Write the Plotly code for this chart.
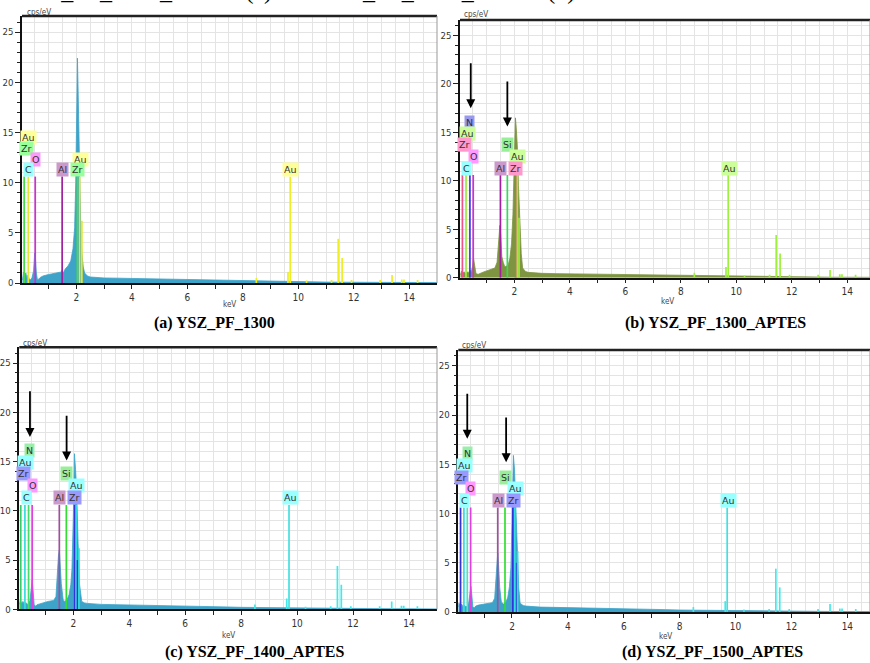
import plotly.graph_objects as go

W, H = 870, 663

# ------------------------------------------------------------------ data
CONT_KEV = [2.5, 2.7, 3.0, 3.5, 4.0, 4.5, 5.0, 5.5, 6.0, 6.5, 7.0, 7.5, 8.0, 8.5,
            9.0, 9.5, 10.0, 10.5, 11.0, 11.5, 12.0, 12.5, 13.0, 13.5, 14.0, 14.5, 15.0]

SPEC_A_KEV = [0.06, 0.1, 0.14, 0.18, 0.22, 0.26, 0.3, 0.34, 0.4, 0.46, 0.5, 0.53, 0.56,
              0.6, 0.65, 0.7, 0.8, 0.9, 1.0, 1.1, 1.2, 1.3, 1.4, 1.46, 1.49, 1.53, 1.6,
              1.7, 1.8, 1.88, 1.94, 1.98, 2.02, 2.04, 2.06, 2.09, 2.12, 2.16, 2.2, 2.25,
              2.3, 2.4] + CONT_KEV
SPEC_A_CPS = [0.3, 1.1, 0.6, 1.0, 0.5, 0.8, 0.4, 0.3, 0.5, 1.2, 3.0, 2.4, 1.0,
              0.3, 0.4, 0.55, 0.7, 0.8, 0.85, 0.9, 0.95, 1.0, 1.05, 1.1, 1.3, 1.0, 1.4,
              1.7, 2.2, 3.4, 5.5, 10.0, 18.0, 22.4, 20.0, 14.0, 9.0, 5.5, 3.0, 1.6,
              1.0, 0.7,
              0.6, 0.55, 0.5, 0.48, 0.45, 0.42, 0.4, 0.36, 0.32, 0.3, 0.27, 0.24, 0.2, 0.18,
              0.16, 0.14, 0.12, 0.1, 0.09, 0.08, 0.07, 0.06, 0.06, 0.05, 0.05, 0.04, 0.04]

SPEC_B_KEV = [0.06, 0.1, 0.15, 0.2, 0.25, 0.3, 0.35, 0.4, 0.45, 0.5, 0.53, 0.57, 0.62,
              0.7, 0.8, 0.9, 1.0, 1.1, 1.2, 1.3, 1.38, 1.44, 1.48, 1.51, 1.55, 1.6, 1.66,
              1.72, 1.78, 1.84, 1.9, 1.95, 2.0, 2.04, 2.07, 2.11, 2.15, 2.2, 2.25, 2.3,
              2.4] + CONT_KEV
SPEC_B_CPS = [0.3, 0.7, 0.5, 0.6, 0.4, 0.6, 0.5, 0.8, 0.6, 1.2, 2.0, 1.4, 0.4,
              0.35, 0.5, 0.6, 0.7, 0.8, 0.9, 1.0, 1.6, 3.5, 5.4, 4.5, 2.2, 1.6, 1.1,
              1.2, 1.3, 2.0, 3.5, 6.5, 12.0, 16.5, 15.5, 13.5, 9.5, 6.0, 2.5, 1.0,
              0.65,
              0.55, 0.5, 0.45, 0.42, 0.4, 0.38, 0.35, 0.32, 0.3, 0.27, 0.25, 0.22, 0.2, 0.18,
              0.15, 0.14, 0.12, 0.1, 0.09, 0.08, 0.07, 0.06, 0.06, 0.05, 0.05, 0.04, 0.04]

SPEC_C_KEV = [0.07, 0.1, 0.15, 0.2, 0.25, 0.3, 0.35, 0.4, 0.45, 0.5, 0.53, 0.56, 0.6,
              0.65, 0.7, 0.8, 0.9, 1.0, 1.1, 1.2, 1.3, 1.38, 1.43, 1.47, 1.5, 1.53, 1.57,
              1.64, 1.7, 1.78, 1.85, 1.91, 1.95, 2.0, 2.04, 2.08, 2.12, 2.17, 2.22, 2.3,
              2.4] + CONT_KEV
SPEC_C_CPS = [0.5, 0.9, 0.6, 0.8, 0.5, 0.7, 0.5, 0.6, 0.9, 2.0, 3.0, 2.0, 0.5,
              0.3, 0.45, 0.55, 0.65, 0.75, 0.8, 0.85, 0.9, 1.3, 4.0, 5.5, 6.0, 4.5, 2.6,
              0.9, 0.8, 1.0, 1.5, 2.5, 4.0, 9.4, 15.8, 14.2, 12.1, 6.7, 2.6, 0.8,
              0.65,
              0.6, 0.55, 0.5, 0.47, 0.45, 0.42, 0.4, 0.36, 0.33, 0.3, 0.27, 0.24, 0.2, 0.18,
              0.16, 0.14, 0.12, 0.1, 0.09, 0.08, 0.07, 0.06, 0.06, 0.05, 0.05, 0.04, 0.04]

SPEC_D_KEV = [0.08, 0.1, 0.15, 0.2, 0.25, 0.3, 0.35, 0.4, 0.45, 0.5, 0.53, 0.56, 0.6,
              0.65, 0.7, 0.8, 0.9, 1.0, 1.1, 1.2, 1.3, 1.38, 1.43, 1.46, 1.49, 1.52, 1.56,
              1.62, 1.7, 1.78, 1.85, 1.91, 1.96, 2.0, 2.05, 2.09, 2.13, 2.19, 2.24, 2.29,
              2.4] + CONT_KEV
SPEC_D_CPS = [0.5, 0.9, 0.6, 0.8, 0.5, 0.7, 0.5, 0.6, 0.9, 1.8, 2.6, 1.8, 0.5,
              0.4, 0.6, 0.7, 0.75, 0.8, 0.85, 0.9, 0.95, 1.4, 4.0, 5.5, 6.0, 4.8, 2.5,
              1.0, 0.8, 1.0, 1.5, 2.6, 4.5, 9.0, 15.9, 14.5, 11.0, 6.3, 2.5, 0.9,
              0.65,
              0.6, 0.55, 0.5, 0.47, 0.45, 0.42, 0.4, 0.36, 0.33, 0.3, 0.27, 0.24, 0.2, 0.18,
              0.16, 0.14, 0.12, 0.1, 0.09, 0.08, 0.07, 0.06, 0.06, 0.05, 0.05, 0.04, 0.04]

# minor Au lines shared by all spectra (keV, cps)
AU_MINOR_KEV = [8.49, 9.63, 10.3, 11.2, 11.44, 11.58, 11.92, 12.95, 13.38, 13.73, 13.81, 14.3]
AU_MINOR_H = [0.5, 1.1, 0.25, 0.3, 4.4, 2.5, 0.3, 0.3, 0.8, 0.35, 0.35, 0.3]

LINES_A_KEV = [0.12, 0.27, 0.52, 1.49, 2.04, 2.12, 2.2, 9.71]
LINES_A_H = [10.6, 10.6, 10.6, 10.6, 10.6, 10.6, 6.2, 10.6]
LINES_A_COL = ['#44DD44', '#E6E62E', '#D030D0', '#A0209F', '#44DD44', '#E6E62E', '#E6E62E', '#EEEE22']
AU_A_COL = '#EEEE22'

LINES_B_KEV = [0.13, 0.26, 0.40, 0.52, 1.50, 1.75, 2.06, 2.11, 2.17, 9.71]
LINES_B_H = [10.6, 10.6, 10.6, 10.6, 10.6, 10.6, 10.6, 10.6, 6.2, 10.6]
LINES_B_COL = ['#F0508C', '#9EEA3C', '#3A3AE6', '#D030D0', '#A0209F', '#33DD55',
               '#F0508C', '#9EEA3C', '#9EEA3C', '#9EF03C']
AU_B_COL = '#9EF03C'

LINES_C_KEV = [0.12, 0.27, 0.40, 0.53, 1.50, 1.75, 2.05, 2.10, 2.15, 2.20, 9.71]
LINES_C_H = [10.6, 10.6, 10.6, 10.6, 10.6, 10.6, 10.6, 10.6, 5.0, 6.2, 10.6]
LINES_C_COL = ['#33CC66', '#33DDDD', '#44DD66', '#E040E0', '#A050A0', '#33DD33',
               '#3333DD', '#33DDDD', '#3333DD', '#33DDDD', '#44E0E0']
AU_C_COL = '#44E8E8'

LINES_D_KEV = [0.16, 0.28, 0.40, 0.52, 1.49, 1.75, 2.03, 2.10, 2.17, 2.20, 9.70]
LINES_D_H = [10.6, 10.6, 10.6, 10.6, 10.6, 10.6, 10.6, 10.6, 5.0, 6.2, 10.6]
LINES_D_COL = ['#3333DD', '#33DDDD', '#55E0C0', '#E040E0', '#A050A0', '#33DD33',
               '#3333DD', '#33DDDD', '#3333DD', '#33DDDD', '#44E0E0']
AU_D_COL = '#44E8E8'

LABELS_A_TEXT = ['Au', 'Zr', 'O', 'C', 'Al', 'Au', 'Zr', 'Au']
LABELS_A_KEV = [0.29, 0.22, 0.53, 0.28, 1.51, 2.14, 2.04, 9.73]
LABELS_A_CPS = [14.5, 13.4, 12.3, 11.3, 11.3, 12.3, 11.3, 11.3]
LABELS_A_BG = ['#FFFF99', '#99FF99', '#FF99FF', '#99FFFF', '#CC99CC', '#FFFF99', '#99FF99', '#FFFF99']

LABELS_B_TEXT = ['N', 'Au', 'Zr', 'O', 'C', 'Al', 'Si', 'Au', 'Zr', 'Au']
LABELS_B_KEV = [0.40, 0.30, 0.22, 0.52, 0.28, 1.50, 1.75, 2.13, 2.04, 9.74]
LABELS_B_CPS = [16.05, 14.9, 13.7, 12.5, 11.3, 11.3, 13.7, 12.5, 11.3, 11.3]
LABELS_B_BG = ['#9999EE', '#CCFF99', '#FF99CC', '#FF99FF', '#99FFFF', '#CC99CC',
               '#99EE99', '#CCFF99', '#FF99CC', '#CCFF99']

LABELS_C_TEXT = ['N', 'Au', 'Zr', 'O', 'C', 'Al', 'Si', 'Au', 'Zr', 'Au']
LABELS_C_KEV = [0.42, 0.30, 0.23, 0.53, 0.33, 1.51, 1.76, 2.13, 2.04, 9.76]
LABELS_C_CPS = [16.1, 14.9, 13.75, 12.56, 11.34, 11.34, 13.75, 12.56, 11.34, 11.34]
LABELS_C_BG = ['#99EEAA', '#99FFFF', '#9999FF', '#FF99FF', '#99FFFF', '#CC99CC',
               '#99EE99', '#99FFFF', '#9999FF', '#99FFFF']

LABELS_D_TEXT = ['N', 'Au', 'Zr', 'O', 'C', 'Al', 'Si', 'Au', 'Zr', 'Au']
LABELS_D_KEV = [0.42, 0.31, 0.21, 0.52, 0.31, 1.52, 1.77, 2.14, 2.05, 9.73]
LABELS_D_CPS = [16.1, 14.9, 13.7, 12.5, 11.3, 11.3, 13.7, 12.5, 11.3, 11.3]
LABELS_D_BG = LABELS_C_BG

ARROWS_B_KEV = [0.43, 1.75]
ARROWS_B_FROM = [22.3, 20.4]
ARROWS_B_TO = [17.5, 15.6]
ARROWS_C_KEV = [0.45, 1.76]
ARROWS_C_FROM = [22.3, 19.8]
ARROWS_C_TO = [17.5, 15.1]
ARROWS_D_KEV = [0.40, 1.79]
ARROWS_D_FROM = [22.3, 19.9]
ARROWS_D_TO = [17.6, 15.2]

CAPTIONS = ['(a) YSZ_PF_1300', '(b) YSZ_PF_1300_APTES',
            '(c) YSZ_PF_1400_APTES', '(d) YSZ_PF_1500_APTES']
TOP_TEXT = 'YSZ_PF_1400_APTES(c) and YSZ_PF_1500_APTES(d).'

Y_TICKS = [0, 5, 10, 15, 20, 25]
X_TICKS = list(range(1, 15))
X_TICK_TEXT = [str(v) if v % 2 == 0 else '' for v in X_TICKS]

# ------------------------------------------------------------------ layout (pixels)
PANELS = [
    dict(spec=(SPEC_A_KEV, SPEC_A_CPS), fill='#3DA3C9',
         lines=(LINES_A_KEV, LINES_A_H, LINES_A_COL), au=AU_A_COL,
         labels=(LABELS_A_TEXT, LABELS_A_KEV, LABELS_A_CPS, LABELS_A_BG), arrows=None,
         px=(22, 437), py=(16, 283), xr=(0.043, 15.0),
         cap=(214, 323), kev=(229, 305), cps=(25, 12)),
    dict(spec=(SPEC_B_KEV, SPEC_B_CPS), fill='#7E9440',
         lines=(LINES_B_KEV, LINES_B_H, LINES_B_COL), au=AU_B_COL,
         labels=(LABELS_B_TEXT, LABELS_B_KEV, LABELS_B_CPS, LABELS_B_BG),
         arrows=(ARROWS_B_KEV, ARROWS_B_FROM, ARROWS_B_TO),
         px=(460, 870), py=(20, 277.7), xr=(0.043, 14.82),
         cap=(715, 323), kev=(667, 302), cps=(462, 14)),
    dict(spec=(SPEC_C_KEV, SPEC_C_CPS), fill='#3DA3C9',
         lines=(LINES_C_KEV, LINES_C_H, LINES_C_COL), au=AU_C_COL,
         labels=(LABELS_C_TEXT, LABELS_C_KEV, LABELS_C_CPS, LABELS_C_BG),
         arrows=(ARROWS_C_KEV, ARROWS_C_FROM, ARROWS_C_TO),
         px=(19.3, 437), py=(347.3, 609.3), xr=(0.069, 15.0),
         cap=(255, 652), kev=(228, 635), cps=(21, 343)),
    dict(spec=(SPEC_D_KEV, SPEC_D_CPS), fill='#3DA3C9',
         lines=(LINES_D_KEV, LINES_D_H, LINES_D_COL), au=AU_D_COL,
         labels=(LABELS_D_TEXT, LABELS_D_KEV, LABELS_D_CPS, LABELS_D_BG),
         arrows=(ARROWS_D_KEV, ARROWS_D_FROM, ARROWS_D_TO),
         px=(458.3, 870), py=(350, 612), xr=(0.079, 14.81),
         cap=(712, 652), kev=(665, 636), cps=(460, 345)),
]


def fx(p):
    return p / W


def fy(p):
    return 1 - p / H


fig = go.Figure()
annotations = []
shapes = []
GRID = '#E4E4E4'
XTICKFONT = dict(family='DejaVu Sans Condensed, DejaVu Sans, sans-serif', size=10, color='#333')
YTICKFONT = dict(family='DejaVu Sans Condensed, DejaVu Sans, sans-serif', size=9.5, color='#333')

for i, P in enumerate(PANELS):
    s = '' if i == 0 else str(i + 1)
    xa, ya = 'x' + s, 'y' + s
    kev, cps = P['spec']
    fig.add_trace(go.Scatter(x=kev, y=cps, mode='lines', fill='tozeroy',
                             line=dict(color=P['fill'], width=0.8),
                             fillcolor=P['fill'], xaxis=xa, yaxis=ya, hoverinfo='skip'))
    lk, lh, lc = P['lines']
    for k, h, c in zip(lk + AU_MINOR_KEV, lh + AU_MINOR_H, lc + [P['au']] * len(AU_MINOR_KEV)):
        fig.add_trace(go.Scatter(x=[k, k], y=[0, h], mode='lines',
                                 line=dict(color=c, width=1.7),
                                 xaxis=xa, yaxis=ya, hoverinfo='skip'))
    for t, k, v, bg in zip(*P['labels']):
        annotations.append(dict(x=k, y=v, xref=xa, yref=ya, text=t, showarrow=False,
                                bgcolor=bg, borderpad=1,
                                font=dict(family='DejaVu Sans, sans-serif', size=9.5, color='#333')))
    if P['arrows']:
        for k, y0, y1 in zip(*P['arrows']):
            annotations.append(dict(x=k, y=y1, ax=k, ay=y0, xref=xa, yref=ya,
                                    axref=xa, ayref=ya, text='', showarrow=True,
                                    arrowhead=2, arrowsize=1.0, arrowwidth=1.8,
                                    arrowcolor='black'))
    dom_x = [fx(P['px'][0]), min(1.0, fx(P['px'][1]))]
    dom_y = [fy(P['py'][1]), fy(P['py'][0])]
    fig.update_layout(**{
        'xaxis' + s: dict(domain=dom_x, range=list(P['xr']), anchor=ya,
                          tickvals=X_TICKS, ticktext=X_TICK_TEXT, ticks='outside',
                          ticklen=4, tickcolor='#222', tickwidth=1,
                          showline=True, linecolor='#111', linewidth=1.5,
                          showgrid=True, gridcolor=GRID, gridwidth=1, zeroline=False,
                          minor=dict(dtick=0.5, tick0=0, showgrid=True, gridcolor=GRID, ticks=''),
                          tickfont=XTICKFONT, automargin=False, fixedrange=True),
        'yaxis' + s: dict(domain=dom_y, range=[0, 26.6], anchor=xa,
                          tickvals=Y_TICKS, ticks='outside', ticklen=5, tickcolor='#222',
                          showline=True, linecolor='#111', linewidth=1.5,
                          showgrid=True, gridcolor=GRID, gridwidth=1, zeroline=False,
                          minor=dict(dtick=1, tick0=0, showgrid=True, gridcolor=GRID,
                                     ticks='outside', ticklen=3, tickcolor='#222'),
                          tickfont=YTICKFONT, automargin=False, fixedrange=True),
    })
    shapes.append(dict(type='line', xref=xa + ' domain', yref=ya + ' domain',
                       x0=0, x1=1, y0=1, y1=1, line=dict(color='#222', width=2.5)))
    shapes.append(dict(type='line', xref=xa + ' domain', yref=ya + ' domain',
                       x0=1, x1=1, y0=0, y1=1, line=dict(color='#999', width=1)))
    annotations.append(dict(x=fx(P['cap'][0]), y=fy(P['cap'][1]), xref='paper', yref='paper',
                            text='<b>' + CAPTIONS[i] + '</b>', showarrow=False,
                            xanchor='center', yanchor='middle',
                            font=dict(family='Liberation Serif, serif', size=16, color='black')))
    annotations.append(dict(x=fx(P['kev'][0]), y=fy(P['kev'][1]), xref='paper', yref='paper',
                            text='keV', showarrow=False, xanchor='center', yanchor='middle',
                            font=dict(family='DejaVu Sans Condensed, DejaVu Sans', size=8, color='#444')))
    annotations.append(dict(x=fx(P['cps'][0]), y=fy(P['cps'][1]), xref='paper', yref='paper',
                            text='cps/eV', showarrow=False, xanchor='left', yanchor='middle',
                            font=dict(family='DejaVu Sans Condensed, DejaVu Sans', size=8, color='#444')))

annotations.append(dict(x=fx(583), y=fy(6.5), xref='paper', yref='paper', text=TOP_TEXT,
                        showarrow=False, xanchor='right', yanchor='bottom',
                        font=dict(family='Liberation Serif, serif', size=24, color='black')))

fig.update_layout(width=W, height=H, margin=dict(l=0, r=0, t=0, b=0),
                  paper_bgcolor='white', plot_bgcolor='white', showlegend=False,
                  annotations=annotations, shapes=shapes)

fig.write_html('out.html', config={'displayModeBar': False},
               post_script="document.body.style.margin='0';document.body.style.overflow='hidden';")
